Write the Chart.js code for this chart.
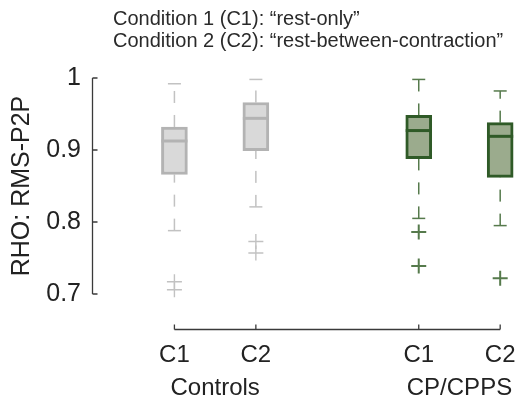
<!DOCTYPE html>
<html>
<head>
<meta charset="utf-8">
<script src="https://cdn.jsdelivr.net/npm/chart.js@4.4.1/dist/chart.umd.min.js"></script>
<style>
html,body{margin:0;padding:0;background:#fff;}
#wrap{width:524px;height:402px;}
</style>
</head>
<body>
<div id="wrap"><canvas id="c" width="524" height="402"></canvas></div>
<script>
// ---- data ----
const titleLines = ['Condition 1 (C1): \u201crest-only\u201d', 'Condition 2 (C2): \u201crest-between-contraction\u201d'];
const xLabels = ['C1', 'C2', 'C1', 'C2'];
const xPositions = [0, 1, 3, 4];
const groupLabels = ['Controls', 'CP/CPPS'];
const groupPositions = [0.5, 3.5];
const yTicks = [0.7, 0.8, 0.9, 1];
const yLabel = 'RHO: RMS-P2P';
const upperWhisker = [0.992, 0.998, 0.998, 0.982];
const q3 = [0.932, 0.966, 0.948, 0.938];
const median = [0.9125, 0.944, 0.927, 0.919];
const q1 = [0.866, 0.899, 0.888, 0.862];
const lowerWhisker = [0.788, 0.821, 0.805, 0.795];
const outliers = [[0.717, 0.706], [0.773, 0.757], [0.786, 0.739], [0.722]];

// ---- styles ----
const FONT = '"Liberation Sans", Arial, Helvetica, sans-serif';
const FILL = ['#d9d9d9', '#d9d9d9', '#9bab8d', '#9bab8d'];
const EDGE = ['#b3b3b3', '#b3b3b3', '#2f5a27', '#2f5a27'];
const WHISK = ['#c2c2c2', '#c2c2c2', '#567a4c', '#567a4c'];
const OUTW = [1.4, 1.4, 2, 2];

Chart.defaults.font.family = FONT;

const datasets = [];
// medians
datasets.push({
  type: 'scatter', data: xPositions.map((x, i) => ({x, y: median[i]})),
  pointStyle: 'line', pointRadius: 13, pointHoverRadius: 13, pointBorderWidth: 3,
  pointBorderColor: EDGE, order: 1, clip: false
});
// outliers
const outPts = [], outCol = [], outW = [];
outliers.forEach((arr, i) => arr.forEach(v => { outPts.push({x: xPositions[i], y: v}); outCol.push(WHISK[i]); outW.push(OUTW[i]); }));
datasets.push({
  type: 'scatter', data: outPts, pointStyle: 'cross', pointRadius: 7.5, pointHoverRadius: 7.5,
  pointBorderWidth: outW, pointBorderColor: outCol, order: 2, clip: false
});
// boxes
datasets.push({
  type: 'bar', data: xPositions.map((x, i) => ({x, y: [q1[i], q3[i]]})),
  backgroundColor: FILL, borderColor: EDGE, borderWidth: 3, borderSkipped: false,
  barThickness: 26, order: 3, clip: false
});
// caps
const capPts = [], capCol = [];
xPositions.forEach((x, i) => {
  capPts.push({x, y: upperWhisker[i]}); capCol.push(WHISK[i]);
  capPts.push({x, y: lowerWhisker[i]}); capCol.push(WHISK[i]);
});
datasets.push({
  type: 'scatter', data: capPts, pointStyle: 'line', pointRadius: 6.5, pointHoverRadius: 6.5,
  pointBorderWidth: 1.5, pointBorderColor: capCol, order: 4, clip: false
});
// whiskers
xPositions.forEach((x, i) => {
  datasets.push({
    type: 'line', data: [{x, y: q3[i]}, {x, y: upperWhisker[i]}],
    borderColor: WHISK[i], borderWidth: 1.5, borderDash: [12, 12], pointRadius: 0, fill: false, order: 5, clip: false
  });
  datasets.push({
    type: 'line', data: [{x, y: lowerWhisker[i]}, {x, y: q1[i]}],
    borderColor: WHISK[i], borderWidth: 1.5, borderDash: [12, 12], pointRadius: 0, fill: false, order: 5, clip: false
  });
});

const zeroPad = s => { s.paddingLeft = 0; s.paddingRight = 0; s.paddingTop = 0; s.paddingBottom = 0; };

const axesPlugin = {
  id: 'axesLines',
  afterDraw(chart) {
    const {ctx, chartArea, scales: {x, y}} = chart;
    ctx.save();
    ctx.strokeStyle = '#3a3a3a';
    ctx.lineWidth = 1.3;
    ctx.beginPath();
    const yx = chartArea.left + 0.5;
    ctx.moveTo(yx, y.getPixelForValue(yTicks[yTicks.length - 1]));
    ctx.lineTo(yx, y.getPixelForValue(yTicks[0]));
    yTicks.forEach(v => { const p = y.getPixelForValue(v); ctx.moveTo(yx, p); ctx.lineTo(yx + 5, p); });
    const xy = chartArea.bottom + 35.5;
    ctx.moveTo(x.getPixelForValue(xPositions[0]), xy);
    ctx.lineTo(x.getPixelForValue(xPositions[xPositions.length - 1]), xy);
    xPositions.forEach(v => { const p = x.getPixelForValue(v); ctx.moveTo(p, xy); ctx.lineTo(p, xy - 5); });
    ctx.stroke();
    ctx.fillStyle = '#2a2a2a';
    ctx.font = '20px ' + FONT;
    ctx.textAlign = 'left';
    ctx.textBaseline = 'middle';
    titleLines.forEach((t, i) => ctx.fillText(t, 113, 19.5 + i * 22));
    ctx.restore();
  }
};

new Chart(document.getElementById('c'), {
  type: 'bar',
  data: {datasets},
  plugins: [axesPlugin],
  options: {
    responsive: false,
    animation: false,
    events: [],
    layout: {padding: {top: 78, left: 0, right: 8, bottom: 0}},
    plugins: {legend: {display: false}, tooltip: {enabled: false}, title: {display: false}},
    scales: {
      x: {
        type: 'linear', position: 'bottom', min: -1.012, max: 4.096, offset: false, weight: 0,
        grid: {display: false, drawTicks: false}, border: {display: false},
        afterBuildTicks: s => { s.ticks = xPositions.map(v => ({value: v})); },
        ticks: {callback: (v, i) => xLabels[i], autoSkip: false, maxRotation: 0, padding: 47,
                font: {size: 24}, color: '#222'},
        afterFit: s => { s.height = 76; zeroPad(s); }
      },
      x2: {
        type: 'linear', axis: 'x', position: 'bottom', min: -1.012, max: 4.096, offset: false, weight: 1,
        grid: {display: false, drawTicks: false}, border: {display: false},
        afterBuildTicks: s => { s.ticks = groupPositions.map(v => ({value: v})); },
        ticks: {callback: (v, i) => groupLabels[i], autoSkip: false, maxRotation: 0, padding: 4,
                font: {size: 24}, color: '#222'},
        afterFit: s => { s.height = 32; zeroPad(s); }
      },
      y: {
        type: 'linear', position: 'left', min: 0.7, max: 1, beginAtZero: false,
        grid: {display: false, drawTicks: false}, border: {display: false},
        afterBuildTicks: s => { s.ticks = yTicks.map(v => ({value: v})); },
        ticks: {callback: v => String(v), padding: 11, font: {size: 25}, color: '#222'},
        title: {display: true, text: yLabel, font: {size: 25}, color: '#222', padding: {top: 7.5, bottom: 0}},
        afterFit: s => { s.width = 92; zeroPad(s); }
      }
    }
  }
});
</script>
</body>
</html>
